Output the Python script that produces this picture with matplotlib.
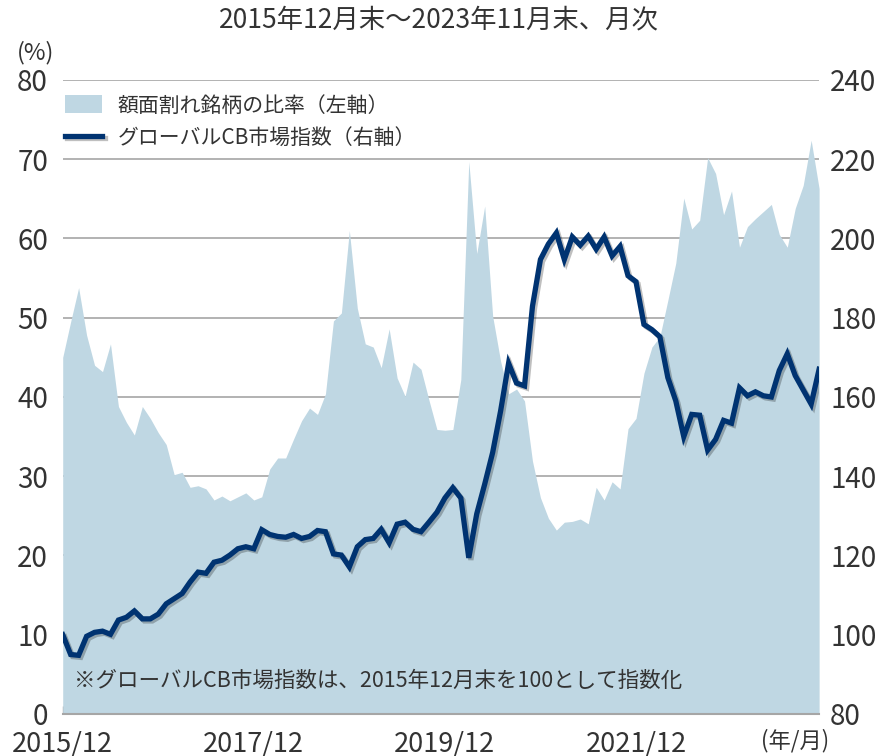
import matplotlib
matplotlib.use("Agg")
from matplotlib import pyplot as plt
import matplotlib.patheffects as pe
import numpy as np

plt.rcParams['font.family'] = ['Noto Sans CJK JP', 'DejaVu Sans']

# データ（2015年12月末～2023年11月末、月次）
months = np.arange(96)
tick_pos = [0, 24, 48, 72]
tick_labels = ['2015/12', '2017/12', '2019/12', '2021/12']

# 額面割れ銘柄の比率（%、左軸）
ratio = [45.0, 49.5, 53.8, 47.8, 44.0, 43.2, 46.7, 38.8, 36.8, 35.2,
         38.8, 37.3, 35.5, 34.0, 30.2, 30.5, 28.6, 28.8, 28.4, 27.0,
         27.5, 26.9, 27.4, 27.9, 27.0, 27.4, 30.9, 32.3, 32.3, 34.7,
         37.0, 38.6, 37.8, 40.4, 49.6, 50.6, 61.0, 51.2, 46.7, 46.3,
         43.7, 48.6, 42.4, 40.1, 44.4, 43.5, 39.6, 35.9, 35.8, 35.9,
         42.2, 69.7, 58.1, 64.1, 50.2, 44.5, 40.4, 41.0, 39.5, 31.9,
         27.3, 24.7, 23.2, 24.2, 24.3, 24.6, 24.0, 28.6, 27.0, 29.3,
         28.4, 36.0, 37.3, 43.0, 46.3, 47.6, 52.2, 56.9, 65.1, 61.2,
         62.3, 70.2, 68.2, 63.0, 66.0, 58.9, 61.5, 62.5, 63.4, 64.3,
         60.5, 58.9, 63.8, 66.7, 72.4, 66.3]

# グローバルCB市場指数（右軸）
cb_index = [100.0, 95.0, 94.8, 99.6, 100.6, 100.9, 100.1, 103.7, 104.4, 106.0,
            104.0, 104.0, 105.2, 107.8, 109.1, 110.4, 113.3, 115.8, 115.5, 118.3,
            118.8, 120.1, 121.7, 122.2, 121.7, 126.5, 125.3, 124.8, 124.6, 125.3,
            124.3, 124.8, 126.3, 126.0, 120.4, 120.1, 117.1, 122.2, 124.0, 124.3,
            126.6, 123.2, 127.9, 128.4, 126.6, 126.0, 128.4, 130.9, 134.5, 137.1,
            134.5, 119.4, 130.5, 138.0, 146.0, 156.5, 168.5, 163.5, 162.8, 182.9,
            194.7, 198.6, 201.4, 194.7, 200.4, 198.3, 200.6, 197.3, 200.4, 195.6,
            198.0, 190.6, 189.1, 178.3, 177.0, 175.2, 164.9, 159.0, 150.0, 155.6,
            155.4, 146.6, 149.3, 154.1, 153.4, 162.3, 160.3, 161.3, 160.3, 160.0,
            166.7, 170.9, 165.4, 161.8, 158.2, 167.0]

text_color = '#333333'
area_color = '#bfd7e3'
line_color = '#003371'
grid_color = '#a6a6a6'

fig = plt.figure(figsize=(8.77, 7.56), dpi=100)
ax = fig.add_axes([0.0715, 0.0556, 0.8625, 0.8386])

# 面グラフ（左軸）
ax.fill_between(months, 0, ratio, color=area_color, linewidth=0, zorder=2,
                label='額面割れ銘柄の比率（左軸）')
ax.set_xlim(0, 95)
ax.set_ylim(0, 80)
ax.set_yticks(range(0, 81, 10))
ax.grid(axis='y', color=grid_color, linewidth=1.2, zorder=1)
ax.set_axisbelow(True)

for s in ['top', 'left', 'right']:
    ax.spines[s].set_visible(False)
ax.spines['bottom'].set_color(grid_color)
ax.spines['bottom'].set_linewidth(1.5)
ax.spines['bottom'].set_zorder(3)

ax.set_xticks(tick_pos)
ax.set_xticklabels(tick_labels)
ax.tick_params(axis='x', direction='in', length=6, color=grid_color, width=1,
               labelsize=19.5, labelcolor=text_color, pad=12)
ax.tick_params(axis='y', length=0, labelsize=20, labelcolor=text_color, pad=10.5)

# 折れ線（右軸）
ax2 = ax.twinx()
ax2.plot(months, cb_index, color=line_color, linewidth=3.8,
         solid_joinstyle='miter', label='グローバルCB市場指数（右軸）',
         path_effects=[pe.SimpleLineShadow(offset=(1.5, -1.5), alpha=0.25),
                       pe.Normal()])
ax2.set_ylim(80, 240)
ax2.set_yticks(range(80, 241, 20))
for s in ['top', 'left', 'right', 'bottom']:
    ax2.spines[s].set_visible(False)
ax2.tick_params(axis='y', length=0, labelsize=20, labelcolor=text_color, pad=8)

h1, l1 = ax.get_legend_handles_labels()
h2, l2 = ax2.get_legend_handles_labels()
leg = ax2.legend(h1 + h2, l1 + l2, loc='upper left', bbox_to_anchor=(0.003, 0.977),
                 frameon=False, fontsize=15, handlelength=1.8, handleheight=0.96,
                 labelspacing=0.5, handletextpad=0.72, borderaxespad=0,
                 borderpad=0)
for t in leg.get_texts():
    t.set_color(text_color)

fig.text(0.5, 0.973, '2015年12月末～2023年11月末、月次', ha='center', va='center',
         fontsize=19, color=text_color)
fig.text(0.04, 0.93, '(%)', ha='center', va='center', fontsize=17, color=text_color)
ax.text(0.015, 0.035, '※グローバルCB市場指数は、2015年12月末を100として指数化',
        transform=ax.transAxes, ha='left', va='bottom', fontsize=15.5,
        color=text_color, zorder=5)
fig.text(0.907, 0.021, '(年/月)', ha='center', va='center', fontsize=16,
         color=text_color)

fig.savefig('out.png', dpi=100)
